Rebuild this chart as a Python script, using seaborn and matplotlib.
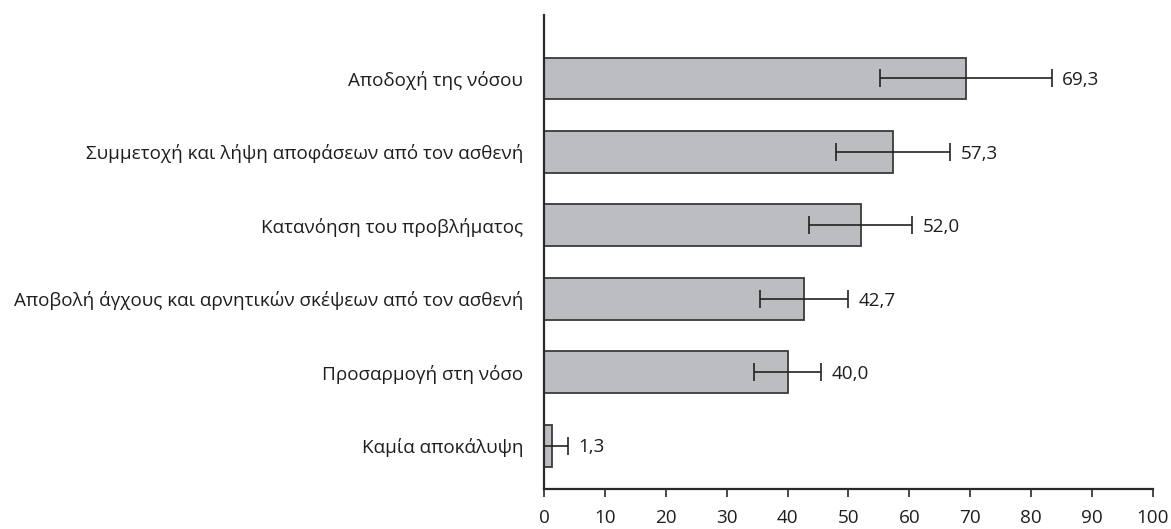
import matplotlib
matplotlib.use("Agg")
import matplotlib.pyplot as plt
import seaborn as sns
import pandas as pd

# Data
categories = [
    "Αποδοχή της νόσου",
    "Συμμετοχή και λήψη αποφάσεων από τον ασθενή",
    "Κατανόηση του προβλήματος",
    "Αποβολή άγχους και αρνητικών σκέψεων από τον ασθενή",
    "Προσαρμογή στη νόσο",
    "Καμία αποκάλυψη",
]
values = [69.3, 57.3, 52.0, 42.7, 40.0, 1.3]
errors = [14.1, 9.4, 8.5, 7.3, 5.5, 2.7]
value_labels = ["69,3", "57,3", "52,0", "42,7", "40,0", "1,3"]
x_ticks = [0, 10, 20, 30, 40, 50, 60, 70, 80, 90, 100]

sns.set_theme(style="white")
plt.rcParams["font.family"] = ["Open Sans", "DejaVu Sans"]

FS = 13.6
TXT = "#1e1e1e"

df = pd.DataFrame({"category": categories, "value": values})

fig = plt.figure(figsize=(11.71, 5.29), dpi=100)
ax = fig.add_axes([0.4646, 0.0750, 0.5198, 0.8966])

sns.barplot(
    data=df, x="value", y="category", orient="h",
    color="#bcbdc0", edgecolor="#3a3a3a", linewidth=1.3,
    width=0.57, errorbar=None, saturation=1, ax=ax,
)

ax.errorbar(
    values, range(len(values)), xerr=errors, fmt="none",
    ecolor="#222222", elinewidth=1.2, capsize=6.8, capthick=1.2,
)

for i, (v, e, lab) in enumerate(zip(values, errors, value_labels)):
    ax.annotate(lab, xy=(v + e, i), xytext=(7.5, -1.2), textcoords="offset points",
                ha="left", va="center", fontsize=FS, color=TXT)

ax.set_xlim(0, 100)
ax.set_ylim(5.592, -0.864)
ax.set_xticks(x_ticks)
ax.set_xticklabels([str(t) for t in x_ticks])
ax.set_xlabel("")
ax.set_ylabel("")

for side in ["top", "right"]:
    ax.spines[side].set_visible(False)
for side in ["left", "bottom"]:
    ax.spines[side].set_color("#2a2a2a")
    ax.spines[side].set_linewidth(1.6)

ax.tick_params(axis="x", direction="out", length=6, width=1.2, color="#2a2a2a",
               labelsize=FS, labelcolor=TXT, pad=8.5, bottom=True)
ax.tick_params(axis="y", length=0, labelsize=FS, labelcolor=TXT, pad=15)

fig.savefig("out.png", dpi=100)
